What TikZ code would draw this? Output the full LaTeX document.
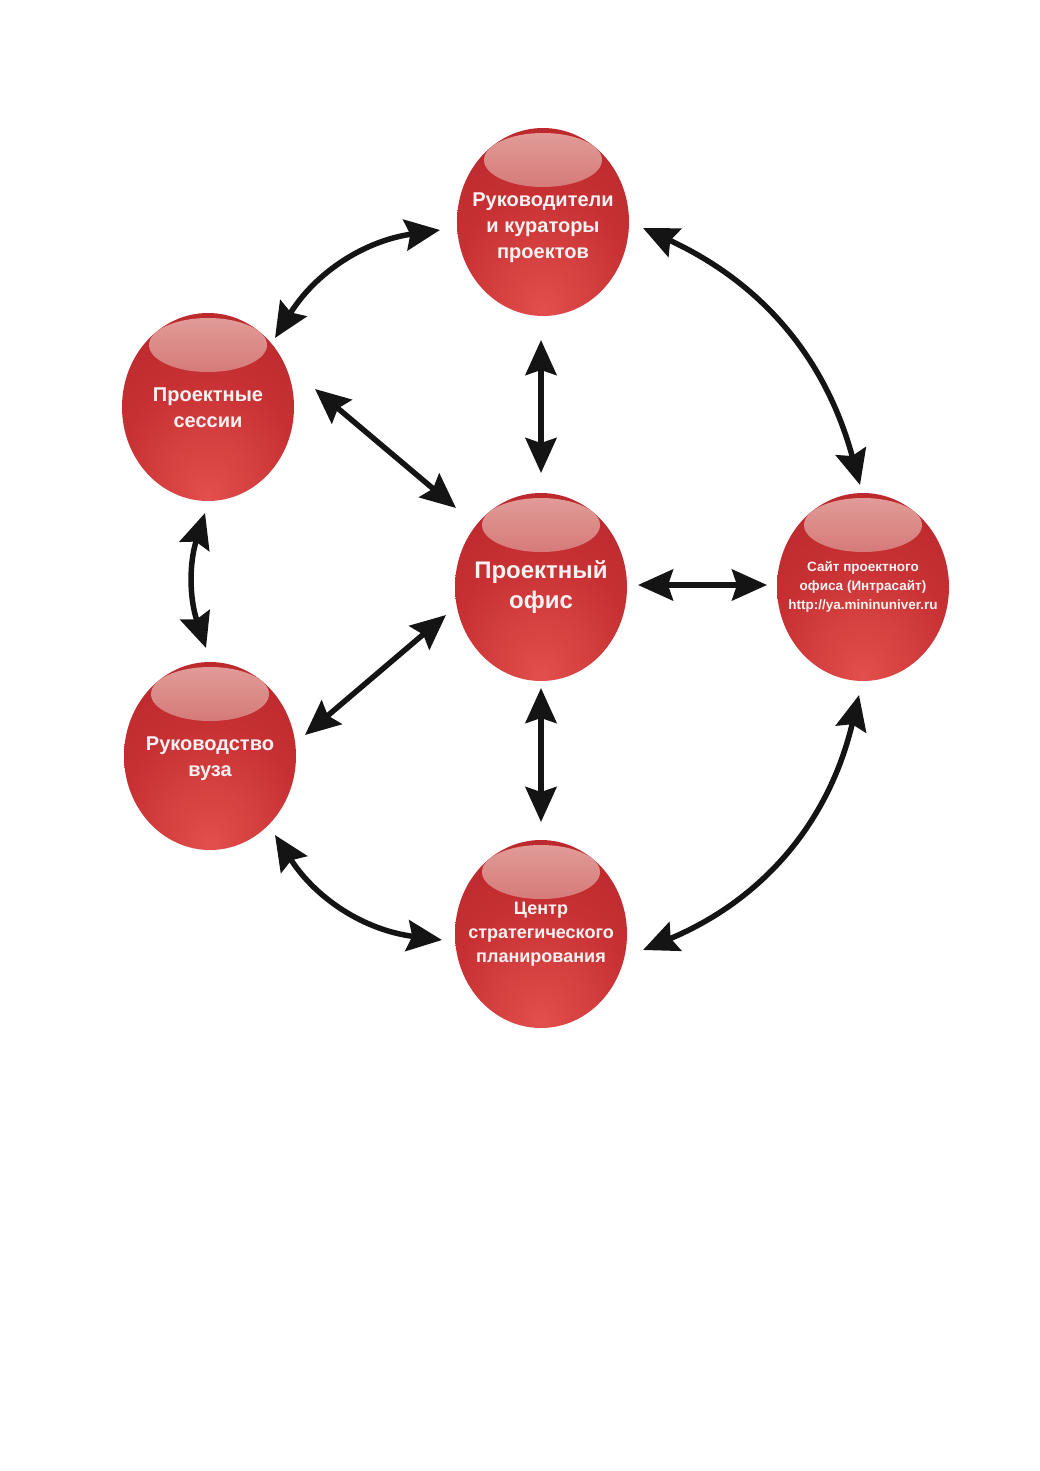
\documentclass[tikz,border=0pt]{standalone}
\usepackage{fontspec}
\setmainfont{Liberation Sans}
\usetikzlibrary{shapes.geometric,arrows.meta}
\definecolor{txt}{RGB}{250,242,242}
\definecolor{hlTop}{RGB}{226,158,154}
\definecolor{hlBot}{RGB}{186,46,49}
\definecolor{ink}{RGB}{20,20,20}
\pgfdeclareradialshading{ballshade}{\pgfpoint{0bp}{-24bp}}{rgb(0bp)=(0.89,0.31,0.30); rgb(26bp)=(0.78,0.19,0.20); rgb(52bp)=(0.70,0.14,0.16); rgb(72bp)=(0.58,0.10,0.12); rgb(100bp)=(0.58,0.10,0.12)}
\newcommand{\balltext}[2][0pt]{\raisebox{#1}[\height][\depth]{\makebox[0pt]{\begin{tabular}{@{}c@{}}#2\end{tabular}}}}
\begin{document}
\begin{tikzpicture}[x=1pt,y=1pt,
 ball/.style={ellipse, minimum width=172pt, minimum height=188pt, inner sep=0pt, outer sep=0pt,
   shade, shading=ballshade, text=txt,
   path picture={\shade[top color=hlTop, bottom color=hlBot]
     ([yshift=62pt]path picture bounding box.center) ellipse [x radius=59pt, y radius=27pt];}},
 fa/.style={font=\bfseries\fontsize{20}{26}\selectfont},
 fb/.style={font=\bfseries\fontsize{24}{30}\selectfont},
 fc/.style={font=\bfseries\fontsize{18}{24}\selectfont},
 fd/.style={font=\bfseries\fontsize{13.5}{19}\selectfont},
 arr/.style={line width=5.5pt, draw=ink, >={Stealth[length=35pt,width=31pt,inset=5pt]}, <->}
]
\fill[white] (0,0) rectangle (1040,-1471);
\useasboundingbox (0,0) rectangle (1040,-1471);

\node[ball, fa] (lead) at (543,-222) {\balltext[-5pt]{Руководители\\и кураторы\\проектов}};
\node[ball, fa] (sess) at (208,-407) {\balltext[-2pt]{Проектные\\сессии}};
\node[ball, fb] (office) at (541,-587) {\balltext{Проектный\\офис}};
\node[ball, fd] (site) at (863,-587) {\balltext{Сайт проектного\\офиса (Интрасайт)\\http://ya.mininuniver.ru}};
\node[ball, fa] (ruk) at (210,-756) {\balltext[-2pt]{Руководство\\вуза}};
\node[ball, fc] (cent) at (541,-934) {\balltext{Центр\\стратегического\\планирования}};

\draw[arr] ([shift={(67,69)}]sess.center) to[bend left=25] ([shift={(-103,-8)}]lead.center);
\draw[arr] ([shift={(100,-6)}]lead.center) to[bend left=25] ([shift={(-3,102)}]site.center);
\draw[arr] ([shift={(-2,-118)}]lead.center) -- ([shift={(0,114)}]office.center);
\draw[arr] ([shift={(107,18)}]sess.center) -- ([shift={(-85,79)}]office.center);
\draw[arr] ([shift={(-3,-106)}]sess.center) to[bend right=18] ([shift={(-4,108)}]ruk.center);
\draw[arr] ([shift={(-95,-28)}]office.center) -- ([shift={(95,21)}]ruk.center);
\draw[arr] ([shift={(97,2)}]office.center) -- ([shift={(-96,2)}]site.center);
\draw[arr] ([shift={(0,-101)}]office.center) -- ([shift={(0,112)}]cent.center);
\draw[arr] ([shift={(65,-79)}]ruk.center) to[bend right=25] ([shift={(-99,-6)}]cent.center);
\draw[arr] ([shift={(-4,-108)}]site.center) to[bend left=27] ([shift={(102,-16)}]cent.center);
\end{tikzpicture}
\end{document}
